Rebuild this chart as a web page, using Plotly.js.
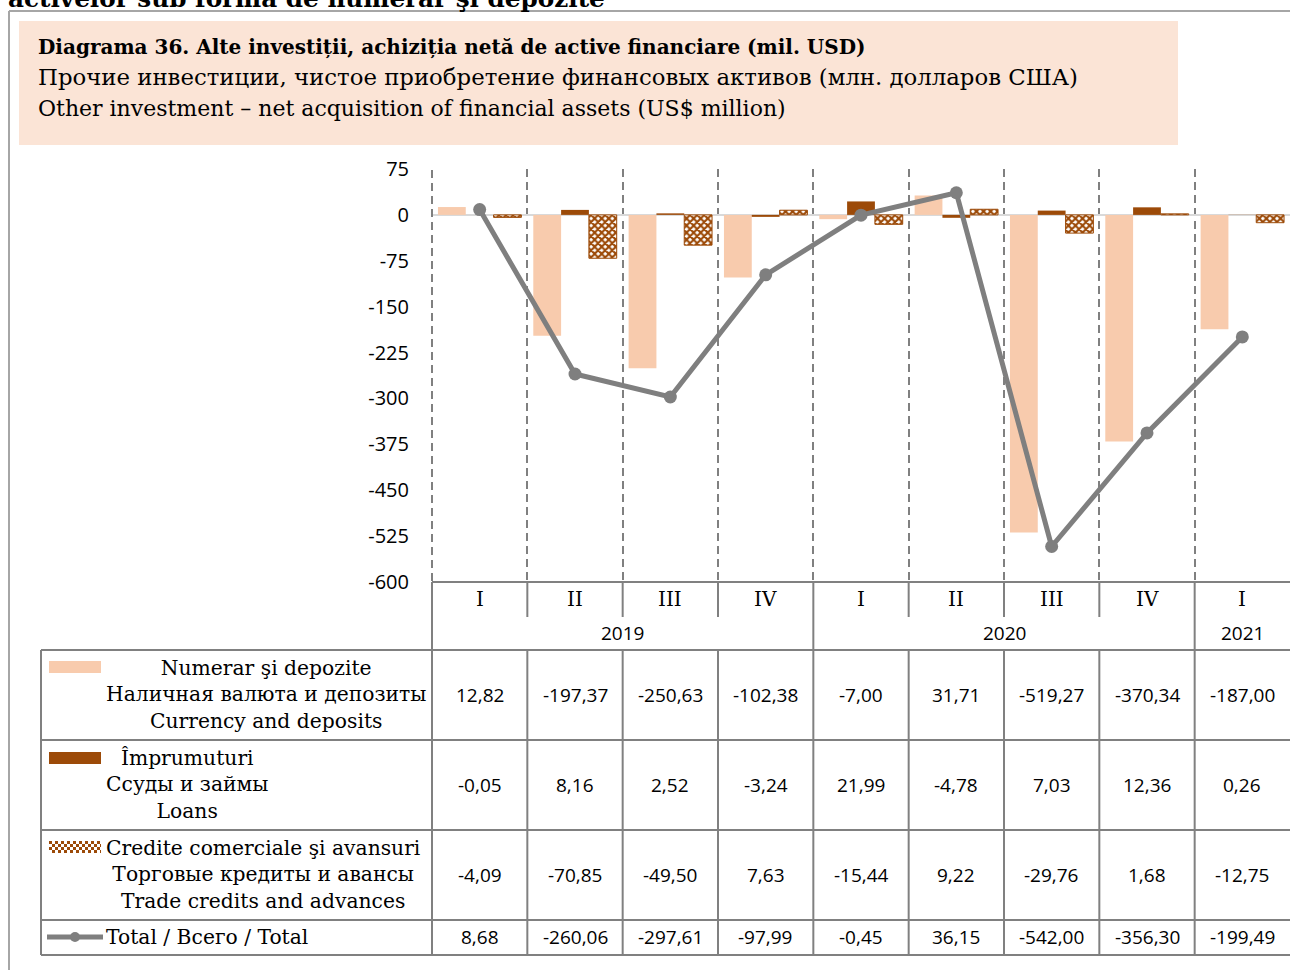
<!DOCTYPE html>
<html><head><meta charset="utf-8">
<script src="https://cdn.plot.ly/plotly-3.0.1.min.js"></script>
<style>html,body{margin:0;padding:0;background:#fff;overflow:hidden}#chart{width:1290px;height:970px}</style>
</head><body><div id="chart"></div>
<script>
// ---------- data ----------
const quarters = ["I","II","III","IV","I","II","III","IV","I"];
const years = ["2019","2019","2019","2019","2020","2020","2020","2020","2021"];
const categories = years.map((y, i) => y + " " + quarters[i]);
const currencyDeposits = [12.82,-197.37,-250.63,-102.38,-7.00,31.71,-519.27,-370.34,-187.00];
const loans = [-0.05,8.16,2.52,-3.24,21.99,-4.78,7.03,12.36,0.26];
const tradeCredits = [-4.09,-70.85,-49.50,7.63,-15.44,9.22,-29.76,1.68,-12.75];
const total = [8.68,-260.06,-297.61,-97.99,-0.45,36.15,-542.00,-356.30,-199.49];
const yTicks = [75,0,-75,-150,-225,-300,-375,-450,-525,-600];
const seriesLabels = [
  "Numerar şi depozite<br>Наличная валюта и депозиты<br>Currency and deposits",
  "Împrumuturi<br>Ссуды и займы<br>Loans",
  "Credite comerciale şi avansuri<br>Торговые кредиты и авансы<br>Trade credits and advances",
  "Total / Всего / Total"
];
const titleLines = [
  "Diagrama 36. Alte investiții, achiziția netă de active financiare (mil. USD)",
  "Прочие инвестиции, чистое приобретение финансовых активов (млн. долларов США)",
  "Other investment – net acquisition of financial assets (US$ million)"
];
const cutHeading = "activelor sub forma de numerar şi depozite";

// ---------- style ----------
const W = 1290, H = 970;
const px = v => v / W, py = v => 1 - v / H;
const SERIF = "DejaVu Serif, Liberation Serif, serif";
const SANS = "Open Sans, Roboto, sans-serif";
const C_CUR = "#F8CBAD", C_LOAN = "#9C4A08", C_TOT = "#7F7F7F", C_GRID = "#808080";
const fmt = v => v.toFixed(2).replace(".", ",");

const traces = [
  {type:"bar", x:categories, y:currencyDeposits, marker:{color:C_CUR}, hoverinfo:"skip"},
  {type:"bar", x:categories, y:loans, marker:{color:C_LOAN}, hoverinfo:"skip"},
  {type:"bar", x:categories, y:tradeCredits, hoverinfo:"skip",
   marker:{color:"#fff", line:{color:C_LOAN, width:1},
           pattern:{shape:"x", fgcolor:C_LOAN, bgcolor:"#fff", size:5, solidity:0.65}}},
  {type:"scatter", mode:"lines+markers", x:categories, y:total, hoverinfo:"skip",
   line:{color:C_TOT, width:5}, marker:{color:C_TOT, size:13}}
];

const shapes = [];
const annotations = [];
const lineSt = {color:C_GRID, width:2};
function seg(x0,y0,x1,y1,xref,line){ shapes.push({type:"line", xref:xref||"paper", yref:"paper", x0:x0, x1:x1, y0:py(y0), y1:py(y1), line:line||lineSt, layer:"above"}); }

// outer frame & header box
shapes.push({type:"line", xref:"paper", yref:"paper", x0:px(9), x1:1, y0:py(11), y1:py(11), line:{color:"#A6A6A6", width:2}});
shapes.push({type:"line", xref:"paper", yref:"paper", x0:px(9), x1:px(9), y0:py(11), y1:0, line:{color:"#A6A6A6", width:2}});
shapes.push({type:"rect", xref:"paper", yref:"paper", x0:px(19), x1:px(1178), y0:py(145), y1:py(21), fillcolor:"#FBE4D6", line:{width:0}, layer:"below"});

// left dashed boundary of plot area
seg(px(432), 170, px(432), 582, "paper", {color:C_GRID, width:2, dash:"8px,5px"});

// table horizontal lines
seg(px(432), 582, 1, 582);
[650, 740, 830, 920, 955].forEach(y => seg(px(41), y, 1, y));
// table outer verticals
seg(px(41), 650, px(41), 955);
seg(px(432), 582, px(432), 955);
// category boundaries
for (let i = 1; i < categories.length; i++) {
  if (years[i] !== years[i-1]) {
    seg(i - 0.5, 582, i - 0.5, 955, "x");
  } else {
    seg(i - 0.5, 582, i - 0.5, 617, "x");
    seg(i - 0.5, 650, i - 0.5, 955, "x");
  }
}

// legend swatches
shapes.push({type:"rect", xref:"paper", yref:"paper", x0:px(49), x1:px(101), y0:py(673), y1:py(661), fillcolor:C_CUR, line:{width:0}});
shapes.push({type:"rect", xref:"paper", yref:"paper", x0:px(49), x1:px(101), y0:py(764), y1:py(752), fillcolor:C_LOAN, line:{width:0}});
shapes.push({type:"line", xref:"paper", yref:"paper", x0:px(47), x1:px(103), y0:py(937), y1:py(937), line:{color:C_TOT, width:5}});
shapes.push({type:"circle", xref:"paper", yref:"paper", x0:px(70), x1:px(80), y0:py(942), y1:py(932), fillcolor:C_TOT, line:{width:0}});
const checkerSvg = '<svg xmlns="http://www.w3.org/2000/svg" width="52" height="12"><defs><pattern id="p" width="6" height="6" patternUnits="userSpaceOnUse"><rect width="6" height="6" fill="#fff"/><rect width="3" height="3" fill="'+C_LOAN+'"/><rect x="3" y="3" width="3" height="3" fill="'+C_LOAN+'"/></pattern></defs><rect width="52" height="12" fill="url(#p)"/></svg>';
const images = [{source:"data:image/svg+xml;charset=utf-8," + encodeURIComponent(checkerSvg),
  xref:"paper", yref:"paper", x:px(49), y:py(841), sizex:52/W, sizey:12/H, xanchor:"left", yanchor:"top", sizing:"stretch", layer:"above"}];

// title texts
annotations.push({xref:"paper", yref:"paper", x:px(6), y:py(15), xanchor:"left", yanchor:"bottom", showarrow:false,
  text:"<b>"+cutHeading+"</b>", font:{family:SERIF, size:24.7, color:"#000"}});
const titleY = [47, 77, 108];
const titleSize = [20, 22.8, 22];
titleLines.forEach((t, i) => annotations.push({xref:"paper", yref:"paper", x:px(36), y:py(titleY[i]), xanchor:"left", yanchor:"middle", showarrow:false,
  text: i === 0 ? "<b>"+t+"</b>" : t, font:{family:SERIF, size:titleSize[i], color:"#000"}}));

// quarter & year header
categories.forEach((c, i) => annotations.push({xref:"x", yref:"paper", x:c, y:py(599), xanchor:"center", yanchor:"middle", showarrow:false,
  text:quarters[i], font:{family:SERIF, size:20, color:"#000"}}));
const yearList = [...new Set(years)];
yearList.forEach(yr => {
  const idx = years.map((y, i) => y === yr ? i : -1).filter(i => i >= 0);
  const mid = (idx[0] + idx[idx.length-1]) / 2;
  annotations.push({xref:"x", yref:"paper", x:mid, y:py(633), xanchor:"center", yanchor:"middle", showarrow:false,
    text:yr, font:{family:SANS, size:19, color:"#000"}});
});

// row labels & values
const rowY = [694, 784, 874, 937];
const rowData = [currencyDeposits, loans, tradeCredits, total];
rowData.forEach((arr, r) => {
  annotations.push({xref:"paper", yref:"paper", x:px(104), y:py(rowY[r]), xanchor:"left", yanchor:"middle", align:"center", showarrow:false,
    text:seriesLabels[r], font:{family:SERIF, size:20.3, color:"#000"}});
  arr.forEach((v, i) => annotations.push({xref:"x", yref:"paper", x:categories[i], y:py(r === 3 ? 937 : rowY[r] + 1), xanchor:"center", yanchor:"middle", showarrow:false,
    text:fmt(v), font:{family:SANS, size:19, color:"#000"}}));
});

const layout = {
  width:W, height:H, margin:{l:0, r:0, t:0, b:0},
  paper_bgcolor:"#fff", plot_bgcolor:"rgba(0,0,0,0)",
  showlegend:false, barmode:"group", bargap:0.125, bargroupgap:0,
  xaxis:{domain:[px(432), 1], type:"category", categoryorder:"array", categoryarray:categories,
    range:[-0.5, categories.length - 0.5], tickson:"boundaries", showgrid:true, gridcolor:C_GRID, gridwidth:2,
    griddash:"8px,5px", showticklabels:false, ticks:"", zeroline:false, showline:false, fixedrange:true},
  yaxis:{domain:[py(582), py(169)], range:[-600, 75], tickvals:yTicks, ticktext:yTicks.map(String),
    showgrid:false, zeroline:true, zerolinecolor:"#D9D9D9", zerolinewidth:2, showline:false, ticks:"",
    ticklabelstandoff:22, tickfont:{family:SANS, size:20, color:"#000"}, fixedrange:true},
  shapes:shapes, annotations:annotations, images:images
};

Plotly.newPlot("chart", traces, layout, {displayModeBar:false, staticPlot:true});
</script>
</body></html>
